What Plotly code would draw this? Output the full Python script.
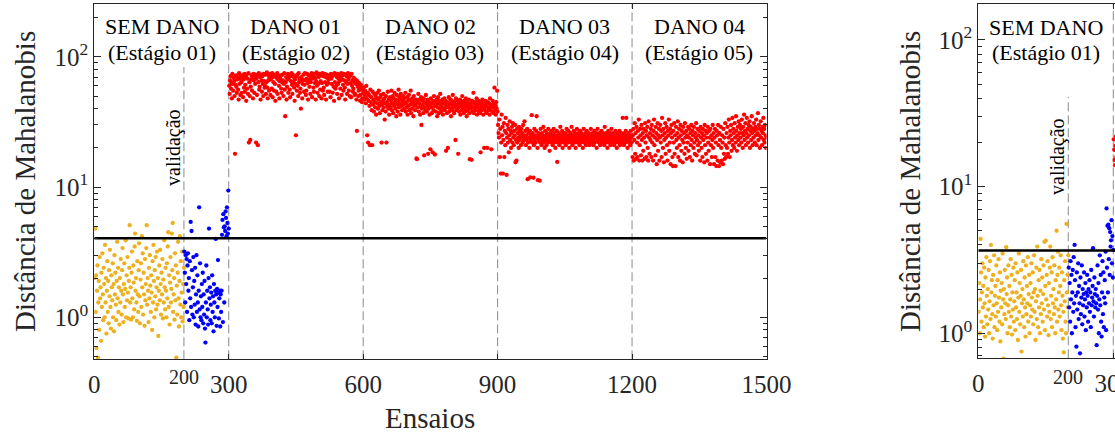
import plotly.graph_objects as go

W, H = 1115, 439
FONT = "Liberation Serif"
AX = "#262626"

# ---------------- data ----------------
x_ticks1 = [0, 300, 600, 900, 1200, 1500]
x_ticks2 = [0, 300]
y_ticks = [1, 10, 100]
y_ticktext = ["10<sup>0</sup>", "10<sup>1</sup>", "10<sup>2</sup>"]
y_minor = [0.5, 0.6, 0.7, 0.8, 0.9, 2, 3, 4, 5, 6, 7, 8, 9,
           20, 30, 40, 50, 60, 70, 80, 90, 200]
stage_x = [150, 450, 750, 1050, 1350]
stage_line1 = ["SEM DANO", "DANO 01", "DANO 02", "DANO 03", "DANO 04"]
stage_line2 = ["(Estágio 01)", "(Estágio 02)", "(Estágio 03)", "(Estágio 04)", "(Estágio 05)"]
stage_bounds = [300, 600, 900, 1200]
valid_start = 200
threshold1 = 4.04
threshold2 = 3.66

# Plot 1 — training (ensaios 1..200)
p1_train = [
    2.0, 4.8, 1.1, 2.1, 0.58, 1.6, 2.5, 0.49, 1.3, 1.9, 0.8, 2.9, 1.4, 1.7, 0.66, 2.2, 1.2, 3.1, 1.5, 0.95,
    2.4, 1.8, 1.0, 3.6, 1.3, 2.0, 0.75, 1.6, 2.7, 1.1, 1.9, 0.9, 2.3, 1.45, 3.3, 1.2, 0.82, 2.1, 1.7, 1.35,
    2.6, 1.0, 1.8, 0.78, 3.0, 1.5, 2.2, 1.25, 0.95, 1.9, 3.8, 1.4, 2.4, 1.1, 1.7, 0.88, 2.0, 1.3, 2.8, 1.6,
    1.05, 2.3, 3.4, 1.5, 0.92, 1.8, 2.6, 1.2, 1.65, 3.9, 1.0, 2.1, 1.35, 2.9, 1.55, 0.98, 1.9, 2.4, 5.1, 1.3,
    1.7, 0.96, 2.2, 3.2, 1.4, 1.0, 2.5, 1.85, 1.15, 3.5, 4.4, 1.6, 2.0, 1.3, 0.94, 2.7, 1.5, 1.1, 2.3, 3.7,
    1.45, 0.9, 1.95, 2.6, 1.2, 4.2, 1.7, 3.1, 1.05, 2.2, 1.5, 0.86, 2.8, 1.35, 1.8, 3.4, 5.1, 1.25, 2.0, 1.6,
    0.92, 2.4, 1.4, 3.0, 1.75, 1.1, 2.1, 1.55, 0.8, 2.7, 1.3, 3.6, 1.9, 1.0, 2.3, 1.45, 2.9, 1.15, 1.7, 3.2,
    1.25, 2.0, 0.72, 1.6, 2.5, 1.35, 3.3, 1.8, 1.05, 2.2, 1.5, 2.8, 0.98, 1.95, 1.3, 3.9, 1.7, 1.15, 2.4, 1.6,
    1.0, 2.6, 1.4, 3.5, 4.5, 1.2, 2.1, 0.88, 1.85, 2.9, 1.3, 1.65, 4.4, 2.3, 5.3, 1.1, 1.5, 2.0, 0.96, 3.1,
    1.35, 2.5, 0.49, 1.75, 1.05, 2.2, 3.8, 1.4, 0.85, 1.9, 4.2, 1.25, 2.7, 1.0, 1.55, 3.2, 0.93, 1.8, 1.2, 2.4,
]
# Plot 1 — validation (ensaios 201..300)
p1_valid = [
    3.2, 2.2, 1.3, 3.0, 1.8, 2.8, 1.1, 2.5, 3.1, 1.6, 2.0, 0.95, 2.7, 1.4, 5.4, 1.2, 4.6, 2.3, 1.05, 1.7,
    2.9, 1.0, 1.9, 1.25, 2.4, 0.88, 1.5, 3.0, 1.1, 2.1, 1.3, 0.85, 1.6, 7.0, 1.15, 2.6, 1.0, 1.45, 0.95, 1.8,
    1.2, 2.2, 0.9, 1.5, 1.05, 1.9, 0.82, 0.64, 1.3, 2.5, 1.0, 1.6, 1.15, 0.88, 2.0, 4.8, 1.4, 1.7, 0.95, 1.25,
    1.55, 0.9, 2.1, 1.1, 1.45, 0.78, 1.8, 1.3, 1.0, 1.6, 4.0, 1.5, 0.86, 1.65, 1.2, 2.75, 1.55, 0.98, 1.4, 1.6,
    0.85, 1.5, 1.1, 1.6, 4.3, 5.6, 0.92, 6.2, 4.9, 1.3, 5.0, 4.6, 6.5, 5.8, 4.2, 7.0, 5.3, 4.4, 9.4, 4.8,
]
# Plot 1 — damaged states (ensaios 301..1500)
p1_dano = [
    # 301-600
    60, 52, 66, 71, 57, 63, 48, 74, 62, 55, 69, 65, 50, 18, 61, 72, 59, 53, 67, 70, 56, 47, 75, 62, 68, 51, 71, 64, 53, 69,
    72, 49, 67, 58, 74, 54, 61, 70, 46, 73, 57, 68, 52, 75, 22, 64, 50, 23, 59, 67, 72, 55, 69, 48, 74, 66, 53, 70, 62, 73,
    22, 68, 51, 72, 21, 64, 75, 56, 59, 70, 47, 73, 66, 54, 71, 62, 50, 74, 65, 58, 60, 73, 52, 64, 76, 58, 48, 66, 72, 55,
    69, 74, 51, 67, 71, 57, 75, 49, 70, 64, 55, 73, 62, 46, 72, 54, 69, 75, 52, 67, 71, 60, 48, 65, 68, 72, 57, 53, 64, 73,
    66, 50, 62, 75, 56, 35, 64, 70, 47, 59, 67, 74, 53, 69, 72, 56, 49, 71, 65, 75, 61, 52, 73, 64, 70, 58, 46, 67, 62, 25,
    71, 55, 73, 60, 50, 75, 64, 68, 53, 57, 40, 70, 65, 48, 62, 67, 73, 54, 61, 75, 66, 51, 55, 68, 74, 63, 47, 66, 72, 59,
    67, 52, 64, 70, 75, 49, 68, 72, 58, 54, 74, 63, 69, 47, 65, 76, 60, 53, 73, 62, 70, 50, 74, 56, 65, 72, 48, 63, 75, 55,
    71, 58, 51, 74, 64, 70, 47, 73, 61, 69, 54, 63, 67, 72, 54, 70, 49, 74, 68, 62, 71, 53, 73, 59, 46, 75, 64, 57, 72, 60,
    70, 52, 74, 62, 68, 48, 65, 71, 57, 69, 75, 51, 67, 72, 61, 55, 74, 66, 58, 47, 73, 64, 71, 52, 62, 75, 67, 55, 70, 50,
    72, 63, 49, 74, 60, 66, 54, 57, 69, 64, 51, 52, 67, 62, 47, 27, 65, 59, 50, 55, 63, 58, 46, 51, 61, 56, 45, 48, 58, 53,
    # 601-900
    58, 52, 47, 55, 50, 44, 60, 48, 25, 53, 22, 46, 51, 42, 21, 56, 45, 49, 39, 21, 54, 43, 47, 38, 52, 45, 41, 50, 36, 48,
    44, 53, 40, 47, 55, 42, 37, 49, 45, 51, 22, 43, 39, 46, 52, 41, 48, 33, 44, 38, 50, 22, 45, 42, 54, 40, 47, 36, 43, 49,
    41, 46, 55, 39, 44, 50, 37, 48, 42, 53, 45, 40, 47, 35, 51, 43, 38, 46, 56, 41, 49, 44, 36, 52, 42, 47, 39, 45, 50, 43,
    48, 40, 45, 53, 38, 44, 41, 49, 36, 46, 42, 51, 39, 47, 43, 55, 37, 45, 40, 48, 44, 35, 50, 42, 46, 39, 43, 47, 16.6, 16.4,
    45, 41, 52, 38, 44, 47, 36, 42, 49, 30, 40, 46, 43, 37, 48, 17.5, 41, 45, 39, 51, 44, 38, 42, 47, 18, 40, 45, 36, 43, 19.5,
    48, 41, 37, 44, 18.5, 46, 39, 50, 42, 17.8, 45, 38, 43, 47, 35, 41, 49, 44, 37, 46, 40, 52, 43, 38, 45, 41, 47, 36, 44, 40,
    48, 39, 43, 46, 19, 41, 37, 45, 20, 42, 49, 38, 44, 40, 47, 35, 43, 46, 39, 51, 41, 44, 37, 45, 42, 23, 48, 39, 43, 40,
    46, 18, 41, 38, 44, 47, 36, 42, 45, 39, 50, 41, 43, 37, 46, 40, 44, 38, 48, 42, 35, 45, 39, 43, 41, 47, 37, 16.4, 44, 40,
    42, 16.2, 46, 38, 41, 53, 37, 44, 40, 45, 39, 42, 48, 36, 43, 41, 46, 38, 44, 40, 37, 18.5, 45, 42, 39, 47, 41, 36, 44, 20,
    40, 43, 46, 38, 42, 37, 20, 45, 41, 39, 44, 36, 48, 40, 43, 19.5, 42, 38, 46, 41, 37, 44, 58, 39, 42, 36, 45, 40, 55, 38,
    # 901-1200
    30, 26, 24, 33, 17, 28, 12.7, 22, 36, 25, 29, 12.7, 23, 31, 17, 27, 21, 34, 26, 12.4, 24, 30, 22, 28, 18.5, 25, 32, 23, 27, 20,
    26, 29, 22, 31, 24, 21, 27, 25, 30, 15.5, 23, 16, 28, 22, 26, 24, 20, 29, 23, 27, 25, 21, 28, 24, 26, 22, 30, 23, 25, 32,
    24, 27, 21, 25, 23, 28, 11.5, 22, 26, 24, 20, 27, 11.9, 23, 25, 35.7, 22, 26, 24, 11.8, 21, 28, 23, 25, 22, 27, 35, 24, 20, 11.3,
    26, 23, 25, 11.2, 22, 28, 24, 21, 26, 23, 25, 29, 22, 24, 20, 27, 23, 25, 21, 26, 24, 22, 28, 23, 25, 19, 24, 26, 22, 27,
    23, 25, 21, 24, 28, 22, 26, 23, 20, 25, 24, 27, 15.6, 22, 25, 23, 26, 21, 24, 29, 22, 25, 23, 27, 20, 24, 26, 22, 25, 23,
    26, 21, 24, 28, 23, 25, 22, 27, 24, 20, 25, 23, 26, 22, 29, 24, 21, 25, 23, 27, 22, 24, 26, 20, 25, 23, 28, 22, 24, 26,
    23, 25, 21, 27, 24, 22, 26, 23, 25, 20, 24, 28, 22, 25, 23, 26, 21, 24, 27, 23, 25, 22, 26, 24, 21, 25, 23, 28, 22, 24,
    26, 23, 25, 21, 24, 27, 22, 25, 23, 26, 20, 24, 28, 23, 25, 22, 26, 24, 21, 25, 23, 27, 22, 24, 26, 23, 25, 21, 29, 24,
    22, 26, 23, 25, 20, 24, 27, 22, 25, 23, 26, 21, 24, 28, 23, 25, 22, 26, 24, 21, 25, 23, 27, 22, 24, 20, 26, 23, 25, 22,
    24, 27, 21, 25, 23, 26, 22, 24, 34, 23, 25, 21, 26, 24, 22, 27, 34, 23, 25, 20, 24, 26, 22, 25, 23, 21, 27, 24, 22, 25,
    # 1201-1500
    17, 25, 28, 16, 23, 31, 18, 26, 16.5, 29, 22, 17, 27, 24, 33, 16, 21, 28, 25, 17.5, 30, 23, 16, 26, 19, 28, 24, 16.5, 31, 22,
    27, 17, 25, 29, 20, 16, 32, 24, 18, 26, 23, 28, 17, 30, 22, 25, 16, 27, 33, 21, 24, 17.5, 29, 26, 15, 23, 31, 19, 25, 28,
    16, 24, 30, 22, 27, 17, 34, 25, 20, 28, 15.5, 23, 26, 31, 18, 24, 29, 21, 16, 27, 25, 33, 19, 22, 28, 15, 26, 30, 24, 17,
    14.5, 27, 22, 31, 18, 25, 14.5, 29, 23, 20, 26, 32, 17, 24, 28, 21, 16, 30, 25, 19, 27, 23, 15.5, 29, 22, 26, 18, 31, 24, 20,
    27, 16.5, 25, 22, 29, 19, 24, 28, 17, 26, 21, 30, 23, 16, 27, 25, 20, 29, 22, 18, 26, 24, 31, 17.5, 23, 28, 21, 25, 19, 27,
    22, 16, 29, 24, 20, 26, 17, 28, 23, 25, 15.5, 30, 21, 27, 18, 24, 26, 16, 29, 22, 19, 27, 24, 15, 28, 21, 25, 17, 23, 30,
    20, 26, 15, 24, 28, 17, 22, 14.5, 27, 25, 16, 30, 21, 14.5, 26, 23, 15.5, 29, 20, 16, 25, 22, 15, 28, 18, 24, 16.5, 31, 21, 17,
    26, 20, 29, 18, 24, 33, 22, 17, 27, 25, 30, 19, 23, 34, 21, 28, 26, 20, 31, 24, 22, 35, 27, 19, 25, 29, 23, 32, 21, 26,
    30, 24, 28, 22, 33, 26, 20, 29, 25, 36, 23, 27, 31, 21, 26, 34, 24, 28, 22, 30, 25, 32, 20, 27, 29, 23, 35, 26, 21, 28,
    24, 31, 27, 22, 29, 25, 33, 21, 28, 26, 37, 23, 30, 25, 20, 28, 32, 24, 27, 21, 29, 26, 34, 23, 28, 22, 30, 25, 20, 24,
]

# Plot 2 — training (ensaios 1..200)
p2_train = [
    1.4, 2.2, 1.0, 1.7, 4.4, 2.6, 1.2, 1.9, 3.0, 1.5, 2.1, 1.1, 2.8, 1.6, 0.95, 2.4, 1.3, 3.3, 1.8, 1.15,
    2.0, 1.45, 2.7, 1.0, 1.65, 3.1, 1.25, 4.0, 1.9, 2.3, 1.35, 0.92, 2.5, 1.55, 3.4, 1.1, 1.8, 2.1, 1.3, 2.9,
    1.6, 1.05, 2.3, 1.4, 3.2, 1.75, 1.2, 2.6, 0.88, 1.95, 1.5, 2.2, 1.15, 3.5, 1.7, 0.67, 2.0, 1.35, 2.7, 1.6,
    1.25, 3.86, 1.85, 2.4, 1.0, 1.55, 2.9, 1.4, 2.1, 1.1, 1.7, 3.2, 1.3, 2.5, 0.98, 1.9, 1.45, 2.8, 1.2, 1.65,
    2.3, 1.05, 3.0, 1.5, 1.9, 1.25, 2.6, 0.9, 1.75, 3.5, 1.4, 2.2, 1.15, 1.8, 2.7, 0.75, 1.6, 2.0, 1.3, 3.1,
    1.7, 1.1, 2.4, 1.5, 0.95, 2.9, 1.35, 2.1, 1.6, 3.3, 1.2, 1.85, 2.5, 1.0, 1.55, 2.2, 1.3, 3.0, 1.75, 1.45,
    2.6, 1.15, 1.9, 3.4, 1.4, 2.0, 0.9, 1.65, 2.8, 1.25, 3.9, 1.8, 1.1, 2.3, 1.5, 2.7, 1.0, 1.95, 1.35, 3.2,
    1.6, 2.4, 1.2, 1.85, 2.9, 1.45, 4.2, 1.05, 2.1, 4.28, 1.7, 2.5, 1.3, 3.1, 1.55, 0.97, 2.2, 1.4, 2.8, 3.9,
    1.25, 1.8, 2.6, 1.1, 3.3, 1.6, 2.0, 1.35, 2.9, 1.5, 1.0, 2.3, 1.7, 5.0, 1.2, 2.5, 3.6, 1.45, 1.9, 2.8,
    1.3, 2.1, 3.4, 1.55, 1.05, 2.6, 1.8, 0.92, 1.4, 0.74, 2.3, 1.65, 3.1, 1.2, 1.0, 5.56, 1.9, 2.5, 1.5, 3.4,
]
# Plot 2 — validation (ensaios 201..300)
p2_valid = [
    2.8, 1.5, 2.2, 1.2, 3.1, 1.7, 2.5, 1.0, 1.9, 2.7, 1.4, 3.3, 1.6, 4.0, 2.3, 1.1, 1.8, 0.81, 2.6, 1.45,
    1.9, 3.0, 1.25, 2.1, 1.6, 0.73, 2.4, 1.35, 1.75, 2.9, 1.15, 2.0, 1.55, 1.85, 2.6, 1.3, 1.7, 2.2, 1.05, 1.9,
    1.5, 2.5, 1.8, 1.2, 2.0, 1.6, 2.3, 1.4, 1.9, 1.1, 2.7, 1.55, 1.75, 2.1, 3.8, 1.65, 1.3, 2.4, 1.85, 1.5,
    2.0, 1.6, 0.83, 1.8, 2.9, 1.45, 2.2, 1.0, 1.7, 3.4, 1.55, 2.5, 1.2, 0.95, 1.9, 3.1, 1.35, 2.6, 1.1, 1.75,
    2.3, 1.6, 3.6, 1.05, 7.1, 2.8, 5.4, 1.9, 5.5, 3.2, 5.2, 2.5, 4.9, 3.9, 4.3, 5.9, 3.0, 4.6, 2.4, 3.7,
]
# Plot 2 — first damaged ensaios (301..310), mostly outside the visible window
p2_dano = [21, 17.8, 15.2, 14, 19, 22, 16, 18, 20, 17]

YELLOW = "#EDB120"
BLUE = "#0000FF"
RED = "#FF0000"

# ---------------- figure ----------------
def idx(start, n):
    return list(range(start, start + n))

fig = go.Figure()

def add_points(xs, ys, color, xa, ya):
    fig.add_trace(go.Scatter(x=xs, y=ys, mode="markers", xaxis=xa, yaxis=ya,
                             marker=dict(color=color, size=4.3, line=dict(width=0)),
                             showlegend=False, hoverinfo="skip"))

add_points(idx(1, len(p1_train)), p1_train, YELLOW, "x", "y")
add_points(idx(201, len(p1_valid)), p1_valid, BLUE, "x", "y")
add_points(idx(301, len(p1_dano)), p1_dano, RED, "x", "y")
add_points(idx(1, len(p2_train)), p2_train, YELLOW, "x2", "y2")
add_points(idx(201, len(p2_valid)), p2_valid, BLUE, "x2", "y2")
add_points(idx(301, len(p2_dano)), p2_dano, RED, "x2", "y2")

fig.add_trace(go.Scatter(x=[0, 1500], y=[threshold1, threshold1], mode="lines",
                         line=dict(color="black", width=2.5), xaxis="x", yaxis="y",
                         showlegend=False, hoverinfo="skip"))
fig.add_trace(go.Scatter(x=[0, 1500], y=[threshold2, threshold2], mode="lines",
                         line=dict(color="black", width=2.5), xaxis="x2", yaxis="y2",
                         showlegend=False, hoverinfo="skip"))

# pixel geometry of the two panels
P1 = dict(l=94.3, r=766.5, t=4.3, b=359.3)
P2 = dict(l=978.3, r=1115.0, t=4.0, b=358.3)

tickfont = dict(family=FONT, size=25, color=AX)

def xaxis(P, rng, tv):
    return dict(domain=[P["l"] / W, P["r"] / W], range=rng, tickmode="array",
                tickvals=tv, ticktext=[str(v) for v in tv],
                showline=True, linecolor=AX, linewidth=1, mirror="ticks",
                ticks="inside", ticklen=5, tickcolor=AX, tickfont=tickfont,
                ticklabelstandoff=3, ticklabeloverflow="allow",
                showgrid=False, zeroline=False, fixedrange=True, automargin=False)

def yaxis(P, rng, anchor, mirror):
    return dict(domain=[1 - P["b"] / H, 1 - P["t"] / H], type="log", range=rng,
                tickmode="array", tickvals=y_ticks, ticktext=y_ticktext,
                showline=True, linecolor=AX, linewidth=1, mirror=mirror,
                ticks="inside", ticklen=7, tickcolor=AX, tickfont=tickfont,
                minor=dict(tickmode="array", tickvals=y_minor, ticks="inside",
                           ticklen=4, tickcolor=AX, showgrid=False),
                showgrid=False, zeroline=False, fixedrange=True, anchor=anchor,
                automargin=False)

fig.update_layout(
    width=W, height=H, margin=dict(l=0, r=0, t=0, b=0, autoexpand=False),
    paper_bgcolor="white", plot_bgcolor="white",
    font=dict(family=FONT, color="black"),
    xaxis=dict(**xaxis(P1, [0, 1500], x_ticks1), anchor="y"),
    yaxis=yaxis(P1, [-0.3224, 2.404], "x", "ticks"),
    xaxis2=dict(**xaxis(P2, [0, 303.8], x_ticks2), anchor="y2"),
    yaxis2=yaxis(P2, [-0.1707, 2.245], "x2", False),
)

shapes = []
for xb in stage_bounds:
    shapes.append(dict(type="line", xref="x", yref="y domain", x0=xb, x1=xb, y0=0, y1=1,
                       line=dict(color="#8a8a8a", width=1, dash="9px,4px"), layer="below"))
shapes.append(dict(type="line", xref="x", yref="y domain", x0=valid_start, x1=valid_start,
                   y0=0, y1=(P1["b"] - 67) / (P1["b"] - P1["t"]),
                   line=dict(color="#8a8a8a", width=1, dash="9px,4px"), layer="below"))
shapes.append(dict(type="line", xref="x2", yref="y2 domain", x0=valid_start, x1=valid_start,
                   y0=0, y1=(P2["b"] - 97) / (P2["b"] - P2["t"]),
                   line=dict(color="#8a8a8a", width=1, dash="9px,4px"), layer="below"))
shapes.append(dict(type="line", xref="x2", yref="y2 domain", x0=300, x1=300, y0=0, y1=1,
                   line=dict(color="#8a8a8a", width=1, dash="9px,4px"), layer="below"))
fig.update_layout(shapes=shapes)

ann = []
for xs, l1, l2 in zip(stage_x, stage_line1, stage_line2):
    ann.append(dict(x=xs, xref="x", y=1 - 26 / H, yref="paper", text=l1, showarrow=False,
                    xanchor="center", yanchor="middle", font=dict(family=FONT, size=22, color="black")))
    ann.append(dict(x=xs, xref="x", y=1 - 53 / H, yref="paper", text=l2, showarrow=False,
                    xanchor="center", yanchor="middle", font=dict(family=FONT, size=22, color="black")))
ann.append(dict(x=stage_x[0], xref="x2", y=1 - 27 / H, yref="paper", text=stage_line1[0], showarrow=False,
                xanchor="center", yanchor="middle", font=dict(family=FONT, size=22, color="black")))
ann.append(dict(x=stage_x[0], xref="x2", y=1 - 53 / H, yref="paper", text=stage_line2[0], showarrow=False,
                xanchor="center", yanchor="middle", font=dict(family=FONT, size=22, color="black")))
# validação labels
ann.append(dict(x=173 / W, xref="paper", y=1 - 148 / H, yref="paper", text="validação", textangle=-90,
                showarrow=False, xanchor="center", yanchor="middle", font=dict(family=FONT, size=20, color="black")))
ann.append(dict(x=1057 / W, xref="paper", y=1 - 157 / H, yref="paper", text="validação", textangle=-90,
                showarrow=False, xanchor="center", yanchor="middle", font=dict(family=FONT, size=20, color="black")))
# small "200" labels
ann.append(dict(x=valid_start, xref="x", y=1 - 377 / H, yref="paper", text=str(valid_start), showarrow=False,
                xanchor="center", yanchor="middle", font=dict(family=FONT, size=20, color=AX)))
ann.append(dict(x=valid_start, xref="x2", y=1 - 377 / H, yref="paper", text=str(valid_start), showarrow=False,
                xanchor="center", yanchor="middle", font=dict(family=FONT, size=20, color=AX)))
# axis titles
ann.append(dict(x=25 / W, xref="paper", y=1 - 182 / H, yref="paper", text="Distância de Mahalanobis",
                textangle=-90, showarrow=False, xanchor="center", yanchor="middle",
                font=dict(family=FONT, size=29, color=AX)))
ann.append(dict(x=910 / W, xref="paper", y=1 - 182 / H, yref="paper", text="Distância de Mahalanobis",
                textangle=-90, showarrow=False, xanchor="center", yanchor="middle",
                font=dict(family=FONT, size=29, color=AX)))
ann.append(dict(x=(P1["l"] + P1["r"]) / 2 / W, xref="paper", y=1 - 418 / H, yref="paper", text="Ensaios",
                showarrow=False, xanchor="center", yanchor="middle", font=dict(family=FONT, size=29, color=AX)))
fig.update_layout(annotations=ann)

fig.write_html("out.html")
